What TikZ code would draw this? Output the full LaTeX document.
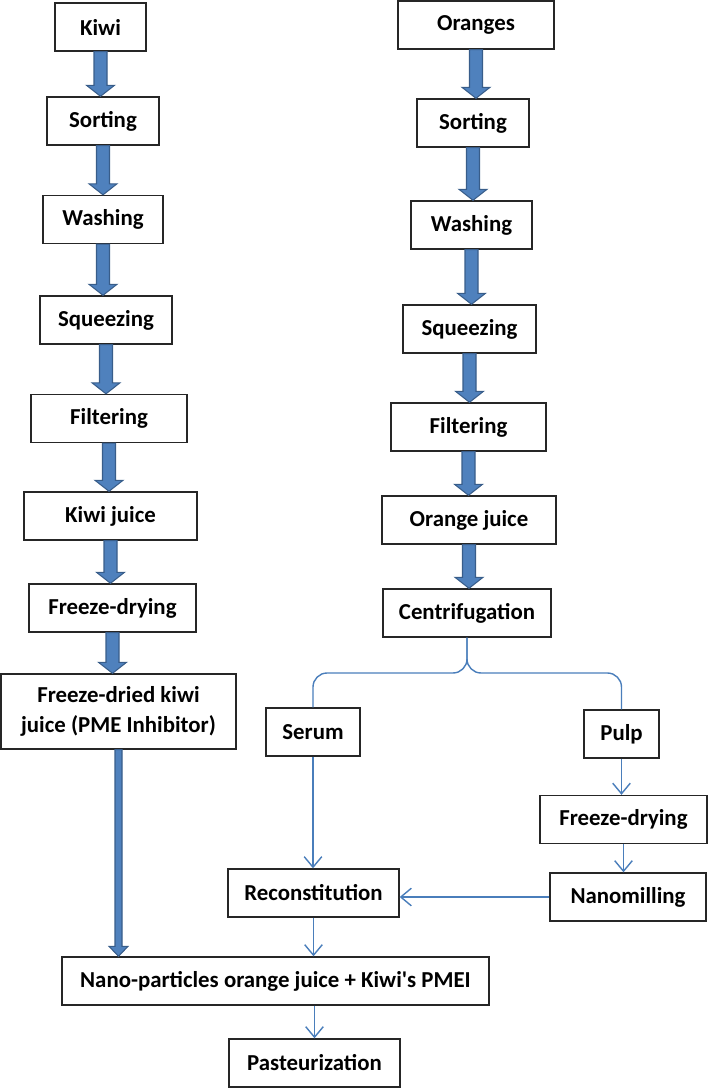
\documentclass[tikz,border=0pt]{standalone}
\usepackage{fontspec}
\setmainfont{Carlito}
\usepackage{tikz}
\usetikzlibrary{arrows.meta,calc}

\definecolor{arrowblue}{HTML}{4F81BD}
\definecolor{arrowedge}{HTML}{385D8A}
\definecolor{lineblue}{HTML}{4A7EBB}

\begin{document}
\begin{tikzpicture}[
  x=0.02cm, y=-0.02cm,
  stepbox/.style={
    draw=black!85, line width=0.8pt, rectangle, fill=white,
    minimum height=0.96cm, inner sep=2pt,
    font=\bfseries\fontsize{13}{17}\selectfont, align=center
  },
  bw/.style={minimum width=#1*0.02cm},
  blockarrow/.style n args={3}{
    draw=arrowedge, fill=arrowblue, line width=0.6pt,
    to path={($(\tikztostart.south)+(-#1,0)$)
      -- ($(\tikztostart.south |- \tikztotarget.north)+(-#1,-#3)$)
      -- ($(\tikztostart.south |- \tikztotarget.north)+(-#2,-#3)$)
      -- (\tikztostart.south |- \tikztotarget.north)
      -- ($(\tikztostart.south |- \tikztotarget.north)+(#2,-#3)$)
      -- ($(\tikztostart.south |- \tikztotarget.north)+(#1,-#3)$)
      -- ($(\tikztostart.south)+(#1,0)$) -- cycle}
  },
  bigarr/.style={blockarrow={6.5}{14}{11}},
  longarr/.style={blockarrow={3.5}{9.5}{10}},
  thinarr/.style={draw=lineblue, line width=0.8pt, -{Straight Barb[length=6pt,width=10pt]}},
  thinline/.style={draw=lineblue, line width=0.8pt, rounded corners=8},
]
\useasboundingbox (0,0) rectangle (709,1088);

%% -- kiwi column -------------------------------------------------------------
\node[stepbox, bw=91]  (kiwi)     at (100.5, 27)  {Kiwi};
\node[stepbox, bw=112] (ksort)    at (103, 121)   {Sorting};
\node[stepbox, bw=120] (kwash)    at (103, 219.5) {Washing};
\node[stepbox, bw=132] (ksqueeze) at (106, 320)   {Squeezing};
\node[stepbox, bw=156] (kfilter)  at (109, 418.5) {Filtering};
\node[stepbox, bw=173] (kjuice)   at (110.5, 516) {Kiwi juice};
\node[stepbox, bw=167] (kdry)     at (112.5, 608) {Freeze-drying};
\node[stepbox, bw=235, minimum height=1.5cm] (kpmei) at (118.5, 711.5)
  {Freeze-dried kiwi\\juice (PME Inhibitor)};

%% -- orange column -----------------------------------------------------------
\node[stepbox, bw=156] (oranges)  at (476, 25)    {Oranges};
\node[stepbox, bw=112] (osort)    at (473, 123)   {Sorting};
\node[stepbox, bw=121] (owash)    at (471.5, 225) {Washing};
\node[stepbox, bw=133] (osqueeze) at (469.5, 329) {Squeezing};
\node[stepbox, bw=155] (ofilter)  at (468.5, 427) {Filtering};
\node[stepbox, bw=174] (ojuice)   at (469, 520)   {Orange juice};
\node[stepbox, bw=168] (centri)   at (467, 613)   {Centrifugation};
\node[stepbox, bw=94]  (serum)    at (313, 732)   {Serum};
\node[stepbox, bw=75]  (pulp)     at (621.5, 734) {Pulp};
\node[stepbox, bw=167] (pdry)     at (623.5, 819.5) {Freeze-drying};
\node[stepbox, bw=156] (nanomill) at (628, 897)   {Nanomilling};
\node[stepbox, bw=171] (recon)    at (313.5, 893) {Reconstitution};

%% -- final steps -------------------------------------------------------------
\node[stepbox, bw=427] (nanojuice) at (275.5, 981)  {Nano-particles orange juice + Kiwi\textquotesingle s PMEI};
\node[stepbox, bw=171] (pasteur)   at (314.5, 1063) {Pasteurization};

%% -- block arrows ------------------------------------------------------------
\draw[bigarr] (kiwi)     to (ksort);
\draw[bigarr] (ksort)    to (kwash);
\draw[bigarr] (kwash)    to (ksqueeze);
\draw[bigarr] (ksqueeze) to (kfilter);
\draw[bigarr] (kfilter)  to (kjuice);
\draw[bigarr] (kjuice)   to (kdry);
\draw[bigarr] (kdry)     to (kpmei);
\draw[longarr] (kpmei)   to (nanojuice);

\draw[bigarr] (oranges)  to (osort);
\draw[bigarr] (osort)    to (owash);
\draw[bigarr] (owash)    to (osqueeze);
\draw[bigarr] (osqueeze) to (ofilter);
\draw[bigarr] (ofilter)  to (ojuice);
\draw[bigarr] (ojuice)   to (centri);

%% -- thin connectors ---------------------------------------------------------
\coordinate (split) at (467, 673);
\draw[thinline] (centri.south) -- (split) -| (serum.north);
\draw[thinline] (centri.south) -- (split) -| (pulp.north);

\draw[thinarr] (serum.south)    -- (serum.south |- recon.north);
\draw[thinarr] (pulp.south)     -- (pulp.south |- pdry.north);
\draw[thinarr] (pdry.south)     -- (pdry.south |- nanomill.north);
\draw[thinarr] (nanomill.west)  -- (nanomill.west -| recon.east);
\draw[thinarr] (recon.south)    -- (recon.south |- nanojuice.north);
\draw[thinarr] (pasteur.north |- nanojuice.south) -- (pasteur.north);

\end{tikzpicture}
\end{document}
